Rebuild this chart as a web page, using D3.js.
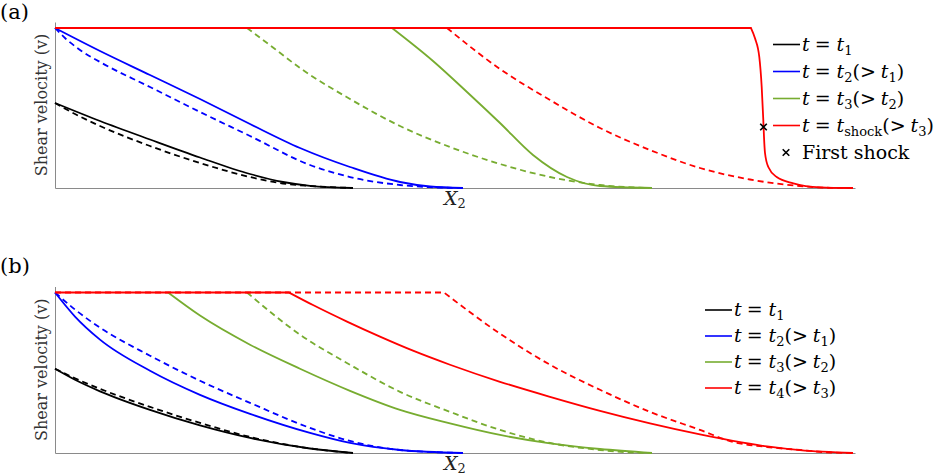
<!DOCTYPE html>
<html>
<head>
<meta charset="utf-8">
<script src="https://cdn.jsdelivr.net/npm/d3@7"></script>
<style>
body { margin: 0; background: #fff; }
svg text { font-family: "DejaVu Serif", "Liberation Serif", serif; }
</style>
</head>
<body>
<svg width="941" height="474"></svg>
<script>
// values: [X2, v]  (X2 arbitrary units 0..8, v arbitrary units, plateau = 16)
// panel (a)
var aBlack     = [[0,8.5],[0.45,6.7],[0.95,4.85],[1.45,3.05],[1.95,1.4],[2.28,0.6],[2.55,0.22],[2.98,0]];
var aBlackDash = [[0,8.5],[0.2,7.4],[0.45,6.2],[0.95,4.2],[1.45,2.5],[1.95,1.1],[2.28,0.45],[2.55,0.2],[2.98,0]];
var aBlue      = [[0,16],[0.45,13.7],[0.95,11.3],[1.45,8.9],[1.95,6.4],[2.45,4.0],[2.95,2.1],[3.45,0.6],[3.75,0.15],[4.08,0]];
var aBlueDash  = [[0,16],[0.1,15.0],[0.25,13.8],[0.45,12.6],[0.95,10.1],[1.45,7.6],[1.95,5.2],[2.55,2.3],[2.95,1.1],[3.45,0.3],[3.75,0.08],[4.08,0]];
var aGreen     = [[3.37,16],[3.78,12.7],[4.12,9.6],[4.45,6.5],[4.78,3.3],[5.12,1.1],[5.45,0.2],[5.97,0]];
var aGreenDash = [[1.92,16],[2.2,13.9],[2.45,12.0],[2.95,8.9],[3.45,6.2],[3.95,4.1],[4.45,2.4],[4.95,1.1],[5.45,0.3],[5.85,0.03],[5.97,0]];
var aRed       = [[0,16],[6.96,16],[7.0,14.97],[7.043,13.1],[7.067,10.1],[7.083,6.8],[7.09,5.1],[7.10,3.5],[7.133,2.1],[7.217,1.1],[7.383,0.47],[7.65,0.07],[7.97,0]];
var aRedDash   = [[3.92,16],[4.45,11.9],[4.95,8.8],[5.45,6.0],[5.95,3.8],[6.45,2.0],[6.95,0.85],[7.45,0.2],[7.75,0.02],[7.98,0]];
var aShock     = [[7.085,6.1]];

// panel (b)
var bBlack     = [[0,8.4],[0.2,7.3],[0.45,6.15],[0.95,4.3],[1.45,2.75],[1.95,1.5],[2.55,0.45],[2.98,0]];
var bBlackDash = [[0,8.4],[0.2,7.45],[0.45,6.4],[0.95,4.6],[1.45,3.0],[1.95,1.6],[2.45,0.6],[2.98,0]];
var bBlue      = [[0,16],[0.2,13.6],[0.45,11.3],[0.95,8.2],[1.45,5.8],[1.95,3.9],[2.55,2.0],[2.95,1.0],[3.45,0.3],[4.08,0]];
var bBlueDash  = [[0,16],[0.2,14.3],[0.45,12.5],[0.95,9.7],[1.45,7.2],[1.95,5.0],[2.55,2.5],[2.95,1.2],[3.45,0.3],[4.08,0]];
var bGreen     = [[1.13,16],[1.45,13.7],[1.95,10.8],[2.45,8.4],[2.95,6.2],[3.45,4.3],[3.95,2.95],[4.45,1.8],[4.95,0.96],[5.45,0.4],[5.97,0]];
var bGreenDash = [[1.92,16],[2.45,11.8],[2.95,8.8],[3.45,6.1],[3.95,4.1],[4.45,2.3],[4.95,1.0],[5.45,0.3],[5.85,0.02],[5.97,0]];
var bRed       = [[0,16],[2.34,16],[2.58,14.75],[2.92,13.1],[3.25,11.6],[3.58,10.2],[3.95,8.8],[4.45,7.1],[4.95,5.6],[5.45,4.2],[5.95,2.95],[6.45,1.85],[6.78,1.2],[7.12,0.65],[7.45,0.28],[7.98,0]];
var bRedDash   = [[0,16],[3.89,16],[4.45,11.9],[4.95,8.8],[5.45,6.3],[5.95,4.1],[6.45,2.3],[6.78,1.1],[7.12,0.6],[7.45,0.3],[7.75,0.05],[7.98,0]];

// legends: [subscript, previous time]
var legendA = [["1", null], ["2", "1"], ["3", "2"], ["shock", "3"]];
var legendB = [["1", null], ["2", "1"], ["3", "2"], ["4", "3"]];
var colors = ["#000000", "#0000ff", "#77ac30", "#ff0000"];
var vTop = 16;

var svg = d3.select("svg");

var x = d3.scaleLinear().domain([0, 8]).range([55, 855]);

var panels = [
  {tag: "(a)", top: 22, bottom: 188, tagY: 19,
   solid: [aBlack, aBlue, aGreen, aRed], dashed: [aBlackDash, aBlueDash, aGreenDash, aRedDash],
   legend: legendA, legX: 773, legY: 44.5, rowH: 27},
  {tag: "(b)", top: 286.5, bottom: 453, tagY: 273,
   solid: [bBlack, bBlue, bGreen, bRed], dashed: [bBlackDash, bBlueDash, bGreenDash, bRedDash],
   legend: legendB, legX: 705, legY: 310, rowH: 26}
];

function mathLabel(t, sub, prev) {
  t.append("tspan").attr("font-style", "italic").text("t");
  t.append("tspan").attr("dx", 5).text("=");
  t.append("tspan").attr("dx", 6).attr("font-style", "italic").text("t");
  t.append("tspan").attr("font-size", 13).attr("dy", 4).text(sub);
  if (prev) {
    t.append("tspan").attr("dy", -4).text("(>");
    t.append("tspan").attr("dx", 5).attr("font-style", "italic").text("t");
    t.append("tspan").attr("font-size", 13).attr("dy", 4).text(prev);
    t.append("tspan").attr("dy", -4).text(")");
  }
}

panels.forEach(function(p) {
  var y = d3.scaleLinear().domain([0, 16.6]).range([p.bottom, p.top]);
  var smooth = d3.line()
      .curve(d3.curveMonotoneX)
      .x(function(d) { return x(d[0]); })
      .y(function(d) { return y(d[1]); });
  var straight = d3.line()
      .x(function(d) { return x(d[0]); })
      .y(function(d) { return y(d[1]); });

  // plateau drawn straight up to the corner, the rest smooth
  function curvePath(s) {
    var k = 0;
    s.forEach(function(d, i) { if (d[1] === vTop) k = i; });
    var d = smooth(s.slice(k));
    if (k > 0) d = straight(s.slice(0, k + 1)) + d.replace(/^M/, "L");
    return d;
  }

  var g = svg.append("g");

  g.append("g")
      .attr("transform", "translate(0," + p.bottom + ")")
      .call(d3.axisBottom(x).ticks(0).tickSizeOuter(0))
      .select(".domain").attr("stroke", "#8a8a8a");
  g.append("g")
      .attr("transform", "translate(" + x(0) + ",0)")
      .call(d3.axisLeft(y).ticks(0).tickSizeOuter(0))
      .select(".domain").attr("stroke", "#8a8a8a");

  p.dashed.forEach(function(s, i) {
    g.append("path")
        .attr("fill", "none")
        .attr("stroke", colors[i])
        .attr("stroke-width", 1.8)
        .attr("stroke-dasharray", "6,4")
        .attr("d", curvePath(s));
  });
  p.solid.forEach(function(s, i) {
    g.append("path")
        .attr("fill", "none")
        .attr("stroke", colors[i])
        .attr("stroke-width", 1.8)
        .attr("d", curvePath(s));
  });

  if (p.tag === "(a)") {
    g.selectAll(".shock").data(aShock).enter().append("path")
        .attr("class", "shock")
        .attr("transform", function(d) { return "translate(" + x(d[0]) + "," + y(d[1]) + ")"; })
        .attr("d", d3.symbol().type(d3.symbolX).size(30))
        .attr("stroke", "#000")
        .attr("stroke-width", 1.6);
  }

  // panel tag
  svg.append("text")
      .attr("x", 0).attr("y", p.tagY)
      .attr("font-size", 21)
      .text(p.tag);

  // y label
  svg.append("text")
      .attr("transform", "translate(47," + (p.top + p.bottom) / 2 + ") rotate(-90)")
      .attr("text-anchor", "middle")
      .attr("font-size", 16)
      .attr("fill", "#333")
      .text("Shear velocity (v)");

  // x label
  var xl = svg.append("text")
      .attr("x", x(4) - 11).attr("y", p.bottom + 16.5)
      .attr("font-size", 19)
      .attr("fill", "#222");
  xl.append("tspan").attr("font-style", "italic").text("X");
  xl.append("tspan").attr("font-size", 13).attr("dy", 3).text("2");

  // legend
  var leg = svg.append("g");
  p.legend.forEach(function(l, i) {
    var ly = p.legY + i * p.rowH;
    leg.append("line")
        .attr("x1", p.legX).attr("x2", p.legX + 27)
        .attr("y1", ly).attr("y2", ly)
        .attr("stroke", colors[i]).attr("stroke-width", 1.6);
    var t = leg.append("text")
        .attr("x", p.legX + 29).attr("y", ly + 6)
        .attr("font-size", 19);
    mathLabel(t, l[0], l[1]);
  });
  if (p.tag === "(a)") {
    var ly = p.legY + 4 * p.rowH;
    leg.append("path")
        .attr("transform", "translate(" + (p.legX + 13) + "," + ly + ")")
        .attr("d", d3.symbol().type(d3.symbolX).size(30))
        .attr("stroke", "#000")
        .attr("stroke-width", 1.6);
    leg.append("text")
        .attr("x", p.legX + 29).attr("y", ly + 6)
        .attr("font-size", 19)
        .text("First shock");
  }
});
</script>
</body>
</html>
